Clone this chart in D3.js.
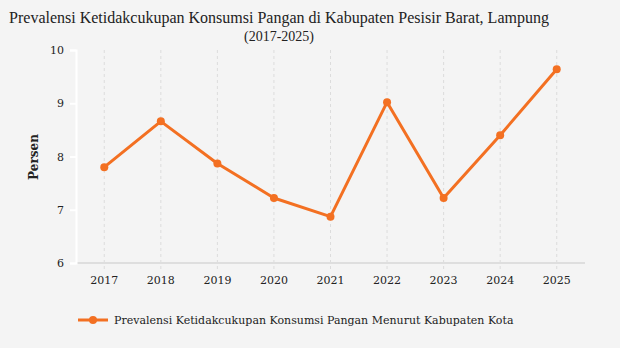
<!DOCTYPE html>
<html><head><meta charset="utf-8">
<script src="https://cdn.jsdelivr.net/npm/d3@7"></script>
<style>html,body{margin:0;padding:0;background:#f4f4f4;}svg{display:block;}
.ser{font-family:"DejaVu Serif","Liberation Serif",serif;}
</style>
</head><body>
<div id="chart"></div>
<script>
const years = ["2017","2018","2019","2020","2021","2022","2023","2024","2025"];
const values = [7.80, 8.66, 7.87, 7.22, 6.87, 9.02, 7.22, 8.40, 9.64];
const yTicks = [6, 7, 8, 9, 10];
const seriesName = "Prevalensi Ketidakcukupan Konsumsi Pangan Menurut Kabupaten Kota";
const title = "Prevalensi Ketidakcukupan Konsumsi Pangan di Kabupaten Pesisir Barat, Lampung";
const subtitle = "(2017-2025)";

const W = 620, H = 348;
const m = {left: 76, right: 35, top: 50, bottom: 85};
const color = "#f37022";
const svg = d3.select("#chart").append("svg").attr("width", W).attr("height", H);
svg.append("rect").attr("width", W).attr("height", H).attr("fill", "#f4f4f4");

const x = d3.scaleBand().domain(years).range([m.left, W - m.right]).padding(0);
const y = d3.scaleLinear().domain([6, 10]).range([H - m.bottom, m.top]);

svg.append("text").attr("x", 279).attr("y", 23).attr("text-anchor", "middle")
  .attr("font-family", "Liberation Serif").attr("font-size", 16).attr("fill", "#222").text(title);
svg.append("text").attr("x", 279).attr("y", 41).attr("text-anchor", "middle")
  .attr("font-family", "Liberation Serif").attr("font-size", 14).attr("fill", "#222").text(subtitle);

// vertical grid
svg.append("g").selectAll("line").data(years).join("line")
  .attr("x1", d => x(d) + x.bandwidth()/2).attr("x2", d => x(d) + x.bandwidth()/2)
  .attr("y1", m.top).attr("y2", H - m.bottom + 6)
  .attr("stroke", "#dcdcdc").attr("stroke-width", 1).attr("stroke-dasharray", "3,3");

// x baseline
svg.append("line").attr("x1", m.left).attr("x2", W - m.right)
  .attr("y1", y(6)).attr("y2", y(6)).attr("stroke", "#dedede").attr("stroke-width", 2);

// y axis
const yAxis = svg.append("g").attr("transform", `translate(${m.left},0)`)
  .call(d3.axisLeft(y).tickValues(yTicks).tickSize(6).tickPadding(6).tickFormat(d3.format("d")));
yAxis.attr("font-family", null);
yAxis.select(".domain").attr("stroke", "#ffffff").attr("stroke-width", 2);
yAxis.selectAll(".tick line").attr("stroke", "#ffffff").attr("stroke-width", 2);
yAxis.selectAll(".tick text").attr("class", "ser").attr("font-size", 11).attr("fill", "#222");

// x labels
const xAxis = svg.append("g").attr("transform", `translate(0,${y(6)})`)
  .call(d3.axisBottom(x).tickSize(0).tickPadding(13));
xAxis.attr("font-family", null);
xAxis.select(".domain").remove();
xAxis.selectAll(".tick text").attr("class", "ser").attr("font-size", 11).attr("fill", "#222");

svg.append("text").attr("class", "ser").attr("transform", "translate(38,157) rotate(-90)").attr("text-anchor", "middle")
  .attr("font-weight", "bold").attr("font-size", 12).attr("fill", "#222").text("Persen");

const cx = (d, i) => x(years[i]) + x.bandwidth()/2;
const line = d3.line().x((d, i) => cx(d, i)).y(d => y(d));
svg.append("path").datum(values).attr("d", line).attr("fill", "none")
  .attr("stroke", color).attr("stroke-width", 3).attr("stroke-linejoin", "round");
svg.append("g").selectAll("circle").data(values).join("circle")
  .attr("cx", (d, i) => cx(d, i)).attr("cy", d => y(d)).attr("r", 4).attr("fill", color);

// legend
const lg = svg.append("g").attr("transform", "translate(78,320)");
lg.append("line").attr("x1", 0).attr("x2", 30).attr("y1", 0).attr("y2", 0).attr("stroke", color).attr("stroke-width", 3);
lg.append("circle").attr("cx", 15).attr("cy", 0).attr("r", 4).attr("fill", color);
lg.append("text").attr("class", "ser").attr("x", 36).attr("y", 4).attr("font-size", 11)
  .attr("fill", "#222").text(seriesName);
</script>
</body></html>
